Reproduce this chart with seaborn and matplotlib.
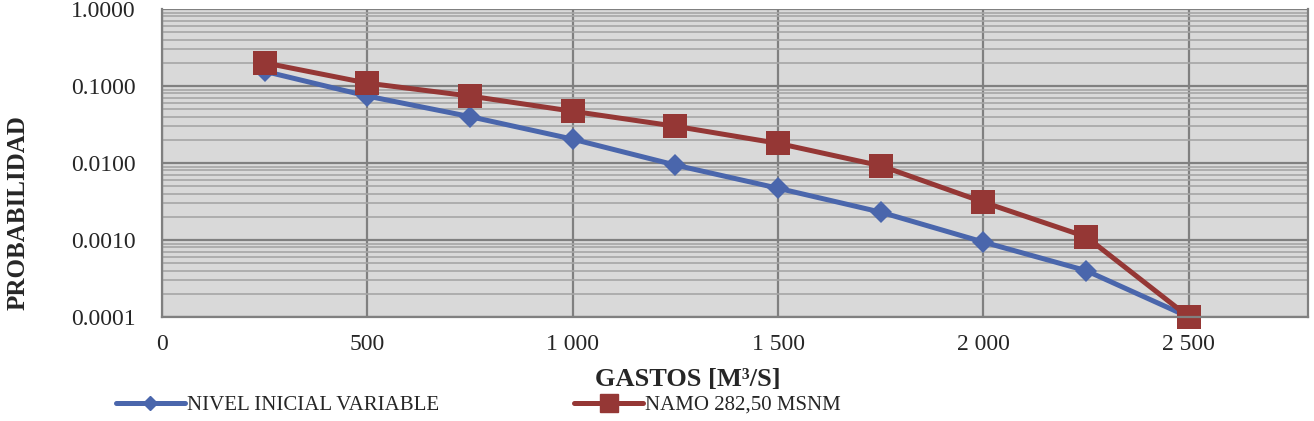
import numpy as np
import pandas as pd
import seaborn as sns
import matplotlib.pyplot as plt
from matplotlib.lines import Line2D
from matplotlib.ticker import FixedLocator, FuncFormatter, LogLocator, NullFormatter

'''
DATA
'''
gastos = [250, 500, 750, 1000, 1250, 1500, 1750, 2000, 2250, 2500]
prob_nivel_variable = [0.155, 0.074, 0.040, 0.0204, 0.0094, 0.0047, 0.0023, 0.00094, 0.00040, 0.0001]
prob_namo = [0.20, 0.109, 0.074, 0.047, 0.030, 0.018, 0.0092, 0.0031, 0.0011, 0.0001]
serie_names = ['NIVEL INICIAL VARIABLE', 'NAMO 282,50 MSNM']
x_ticks = [0, 500, 1000, 1500, 2000, 2500]
y_ticks = [0.0001, 0.001, 0.01, 0.1, 1.0]

df = pd.DataFrame({
    'gasto': gastos * 2,
    'prob': prob_nivel_variable + prob_namo,
    'serie': [serie_names[0]] * len(gastos) + [serie_names[1]] * len(gastos),
})

'''
PLOT
'''
sns.set_style('white')
plt.rcParams['font.family'] = ['Liberation Serif', 'DejaVu Serif']

fig = plt.figure(figsize=(13.14, 4.21), dpi=100)
ax = fig.add_axes([0.1233, 0.247, 0.8721, 0.7316])
ax.set_facecolor('#d9d9d9')

palette = {serie_names[0]: '#4a66ac', serie_names[1]: '#953735'}
markers = {serie_names[0]: 'D', serie_names[1]: 's'}

sns.lineplot(data=df, x='gasto', y='prob', hue='serie', style='serie',
             palette=palette, markers=markers, dashes=False, ax=ax,
             linewidth=3.6, markeredgewidth=0, legend=False)

# marker sizes differ per series
for line, ms in zip(ax.get_lines(), [11, 17]):
    line.set_markersize(ms)
    line.set_clip_on(False)

ax.set_yscale('log')
ax.set_ylim(0.0001, 1.0)
ax.set_xlim(0, 2790)

ax.xaxis.set_major_locator(FixedLocator(x_ticks))
ax.xaxis.set_major_formatter(FuncFormatter(lambda v, p: f'{int(v):,}'.replace(',', ' ')))
ax.yaxis.set_major_locator(FixedLocator(y_ticks))
ax.yaxis.set_major_formatter(FuncFormatter(lambda v, p: f'{v:.4f}'))
ax.yaxis.set_minor_locator(LogLocator(base=10, subs=np.arange(2, 10)))
ax.yaxis.set_minor_formatter(NullFormatter())

ax.grid(which='major', axis='both', color='#808080', linewidth=1.6)
ax.grid(which='minor', axis='y', color='#a6a6a6', linewidth=1.2)
ax.set_axisbelow(True)

ax.tick_params(axis='y', which='major', direction='out', length=7, width=1.3,
               color='#808080', labelsize=17, pad=12)
ax.tick_params(axis='y', which='minor', length=0)
ax.tick_params(axis='x', which='major', length=0, labelsize=17, pad=12)

for side in ['left', 'bottom', 'right', 'top']:
    ax.spines[side].set_color('#808080')
    ax.spines[side].set_linewidth(1.6)
ax.spines['top'].set_visible(False)

ax.set_xlabel('GASTOS [M³/S]', fontsize=19, fontweight='bold')
ax.xaxis.set_label_coords(0.459, -0.165)
ax.set_ylabel('PROBABILIDAD', fontsize=18, fontweight='bold')
ax.yaxis.set_label_coords(-0.116, 0.34)

# legend at the bottom
handles = [
    Line2D([], [], color=palette[serie_names[0]], marker='D', markersize=7, linewidth=3.6),
    Line2D([], [], color=palette[serie_names[1]], marker='s', markersize=13, linewidth=3.6),
]
fig.legend(handles, serie_names, loc='lower left', bbox_to_anchor=(0.074, -0.03),
           ncol=2, frameon=False, fontsize=15, handlelength=3.3, handletextpad=0.1,
           columnspacing=6.5)

fig.savefig('out.png', dpi=100)
